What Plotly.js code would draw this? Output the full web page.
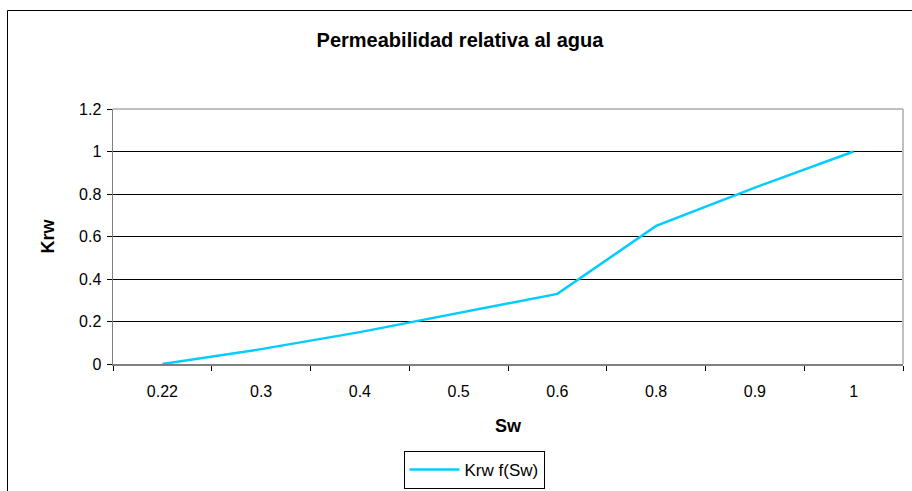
<!DOCTYPE html>
<html>
<head>
<meta charset="utf-8">
<script src="https://cdn.plot.ly/plotly-3.0.1.min.js"></script>
<style>
  html, body { margin: 0; padding: 0; background: #fff; }
  #chart { width: 912px; height: 491px; }
</style>
</head>
<body>
<div id="chart"></div>
<script>
// Water saturation categories and relative permeability to water
const sw = ['0.22', '0.3', '0.4', '0.5', '0.6', '0.8', '0.9', '1'];
const krw = [0, 0.07, 0.15, 0.24, 0.33, 0.65, 0.83, 1];
const yTicks = [0, 0.2, 0.4, 0.6, 0.8, 1, 1.2];
const yTickText = ['0', '0.2', '0.4', '0.6', '0.8', '1', '1.2'];

const FONT = 'Liberation Sans, Arial, sans-serif';

const trace = {
  x: sw,
  y: krw,
  type: 'scatter',
  mode: 'lines',
  name: 'Krw f(Sw)',
  line: { color: '#00CCFF', width: 2.5 },
  hoverinfo: 'x+y'
};

// plot area: x 113..903, y 109..364 (px)
const W = 790, H = 255, L = 113, T = 109;
const px = v => (v - L) / W;
const py = v => (T + H - v) / H;

const layout = {
  width: 912,
  height: 491,
  margin: { l: 113, r: 9, t: 109, b: 127, autoexpand: false },
  paper_bgcolor: '#ffffff',
  plot_bgcolor: '#ffffff',
  font: { family: FONT, size: 16, color: '#000' },
  showlegend: true,
  title: {
    text: '<b>Permeabilidad relativa al agua</b>',
    font: { family: FONT, size: 20, color: '#000' },
    xref: 'container', x: 460 / 912, xanchor: 'center',
    yref: 'container', y: 1 - 40 / 491, yanchor: 'middle'
  },
  xaxis: {
    type: 'category',
    range: [-0.5, 7.5],
    showgrid: false,
    zeroline: false,
    showline: true,
    linecolor: '#808080',
    linewidth: 1.5,
    ticks: 'outside',
    tickson: 'boundaries',
    ticklen: 5,
    tickcolor: '#000',
    ticklabelstandoff: 12,
    tickfont: { family: FONT, size: 16, color: '#000' },
    title: {
      text: '<b>Sw</b>',
      font: { family: FONT, size: 18, color: '#000' },
      standoff: 20
    },
    automargin: false,
    fixedrange: true
  },
  yaxis: {
    range: [0, 1.2],
    tickvals: yTicks,
    ticktext: yTickText,
    showgrid: true,
    gridcolor: '#000',
    gridwidth: 1,
    zeroline: false,
    showline: true,
    linecolor: '#808080',
    linewidth: 1.5,
    ticks: 'outside',
    ticklen: 5,
    tickcolor: '#000',
    ticklabelstandoff: 2,
    tickfont: { family: FONT, size: 16, color: '#000' },
    title: {
      text: '<b>Krw</b>',
      font: { family: FONT, size: 18, color: '#000' },
      standoff: 19
    },
    automargin: false,
    fixedrange: true
  },
  legend: {
    x: px(474), xanchor: 'center',
    y: py(451), yanchor: 'top',
    orientation: 'h',
    bordercolor: '#000',
    borderwidth: 1,
    bgcolor: '#fff',
    itemwidth: 50,
    font: { family: FONT, size: 17, color: '#000' }
  },
  shapes: [
    // plot area frame (top and right edges)
    {
      type: 'line', xref: 'paper', yref: 'paper',
      x0: 0, x1: 1, y0: 1, y1: 1,
      line: { color: '#c0c0c0', width: 2 }
    },
    {
      type: 'line', xref: 'paper', yref: 'paper',
      x0: 1, x1: 1, y0: 0, y1: 1,
      line: { color: '#c0c0c0', width: 2 }
    },
    // chart area frame
    {
      type: 'rect', xref: 'paper', yref: 'paper',
      x0: px(7.5), x1: px(920), y0: py(500), y1: py(10.5),
      line: { color: '#000', width: 1 },
      fillcolor: 'rgba(0,0,0,0)',
      layer: 'above'
    }
  ]
};

Plotly.newPlot('chart', [trace], layout, { staticPlot: true, displayModeBar: false });
</script>
</body>
</html>
